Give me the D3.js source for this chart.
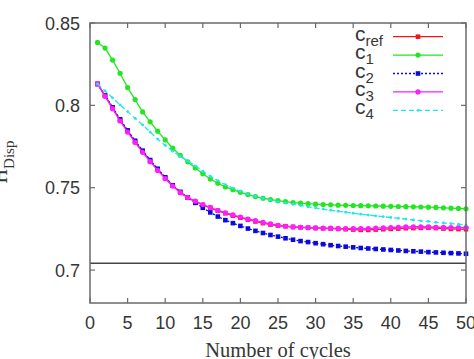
<!DOCTYPE html>
<html>
<head>
<meta charset="utf-8">
<script src="https://cdn.jsdelivr.net/npm/d3@7"></script>
<style>
  body { margin: 0; background: #fff; }
  svg { display: block; }
</style>
</head>
<body>
<div class="chart"></div>
<script>
var cycles = [1, 2, 3, 4, 5, 6, 7, 8, 9, 10, 11, 12, 13, 14, 15, 16, 17, 18, 19, 20,
	21, 22, 23, 24, 25, 26, 27, 28, 29, 30, 31, 32, 33, 34, 35, 36, 37, 38, 39, 40,
	41, 42, 43, 44, 45, 46, 47, 48, 49, 50];

var cRef = [0.8130, 0.8060, 0.7985, 0.7910, 0.7845, 0.7780, 0.7720, 0.7662, 0.7610, 0.7560,
	0.7512, 0.7472, 0.7440, 0.7415, 0.7395, 0.7378, 0.7360, 0.7345, 0.7330, 0.7318,
	0.7306, 0.7295, 0.7285, 0.7276, 0.7270, 0.7266, 0.7262, 0.7259, 0.7257, 0.7255,
	0.7253, 0.7252, 0.7250, 0.7248, 0.7246, 0.7244, 0.7244, 0.7246, 0.7248, 0.7250,
	0.7252, 0.7254, 0.7255, 0.7256, 0.7257, 0.7255, 0.7252, 0.7250, 0.7249, 0.7248];

var c1 = [0.8382, 0.8348, 0.8275, 0.8195, 0.8108, 0.8035, 0.7960, 0.7900, 0.7843, 0.7790,
	0.7740, 0.7697, 0.7657, 0.7620, 0.7585, 0.7553, 0.7527, 0.7505, 0.7488, 0.7472,
	0.7458, 0.7446, 0.7436, 0.7428, 0.7421, 0.7415, 0.7410, 0.7406, 0.7403, 0.7400,
	0.7398, 0.7396, 0.7394, 0.7393, 0.7392, 0.7391, 0.7390, 0.7389, 0.7388, 0.7387,
	0.7386, 0.7385, 0.7384, 0.7383, 0.7382, 0.7380, 0.7378, 0.7376, 0.7374, 0.7372];

var c2 = [0.8130, 0.8060, 0.7988, 0.7915, 0.7848, 0.7785, 0.7725, 0.7668, 0.7615, 0.7563,
	0.7515, 0.7475, 0.7440, 0.7408, 0.7378, 0.7350, 0.7325, 0.7303, 0.7285, 0.7268,
	0.7252, 0.7238, 0.7225, 0.7213, 0.7203, 0.7193, 0.7184, 0.7176, 0.7170, 0.7163,
	0.7157, 0.7151, 0.7146, 0.7142, 0.7138, 0.7134, 0.7131, 0.7128, 0.7125, 0.7122,
	0.7119, 0.7116, 0.7114, 0.7112, 0.7109, 0.7107, 0.7105, 0.7103, 0.7101, 0.7099];

var c3 = [0.8130, 0.8055, 0.7980, 0.7905, 0.7838, 0.7775, 0.7715, 0.7658, 0.7605, 0.7555,
	0.7510, 0.7470, 0.7440, 0.7418, 0.7398, 0.7380, 0.7363, 0.7348, 0.7335, 0.7322,
	0.7310, 0.7300, 0.7290, 0.7280, 0.7272, 0.7266, 0.7262, 0.7260, 0.7258, 0.7256,
	0.7255, 0.7254, 0.7252, 0.7252, 0.7251, 0.7251, 0.7252, 0.7254, 0.7256, 0.7258,
	0.7260, 0.7262, 0.7263, 0.7263, 0.7262, 0.7260, 0.7259, 0.7258, 0.7258, 0.7258];

var c4 = [0.8130, 0.8088, 0.8045, 0.8003, 0.7962, 0.7921, 0.7881, 0.7838, 0.7795, 0.7757,
	0.7722, 0.7690, 0.7662, 0.7633, 0.7600, 0.7570, 0.7543, 0.7518, 0.7497, 0.7478,
	0.7461, 0.7447, 0.7435, 0.7425, 0.7416, 0.7408, 0.7400, 0.7392, 0.7384, 0.7377,
	0.7370, 0.7363, 0.7357, 0.7351, 0.7345, 0.7339, 0.7334, 0.7329, 0.7324, 0.7319,
	0.7314, 0.7309, 0.7304, 0.7299, 0.7295, 0.7290, 0.7286, 0.7282, 0.7278, 0.7274];

var refLevel = 0.7041;

var xTicks = [0, 5, 10, 15, 20, 25, 30, 35, 40, 45, 50];
var yTicks = [0.7, 0.75, 0.8, 0.85];

var seriesNames = ["ref", "1", "2", "3", "4"];
var seriesValues = [cRef, c1, c2, c3, c4];
var seriesColors = ["#f01818", "#22e622", "#0a0ae0", "#ff1cff", "#1ee8e8"];
var seriesDash = [null, null, "2,2", null, "5,3"];
var seriesMarker = ["square", "circle", "square", "circle", "dot"];

(function() {
	var width = 474;
	var height = 359;
	var pLeft = 90, pRight = 466, pTop = 23, pBottom = 303;

	var svg = d3.select(".chart")
		.append("svg")
		.attr("width", width)
		.attr("height", height);

	var x = d3.scaleLinear().domain([0, 50]).range([pLeft, pRight]);
	var y = d3.scaleLinear().domain([0.68, 0.85]).range([pBottom, pTop]);

	var frameColor = "#6a6a6a";
	var textColor = "#363636";
	var sans = "'Liberation Sans', Arial, sans-serif";
	var serif = "'Liberation Serif', 'Times New Roman', serif";

	// ticks, mirrored on all four sides, pointing inward
	var tickLen = 5;
	var ticks = svg.append("g").attr("stroke", frameColor).attr("stroke-width", 1.2);
	xTicks.forEach(function(t) {
		ticks.append("line").attr("x1", x(t)).attr("x2", x(t)).attr("y1", pBottom).attr("y2", pBottom - tickLen);
		ticks.append("line").attr("x1", x(t)).attr("x2", x(t)).attr("y1", pTop).attr("y2", pTop + tickLen);
	});
	yTicks.forEach(function(t) {
		ticks.append("line").attr("x1", pLeft).attr("x2", pLeft + tickLen).attr("y1", y(t)).attr("y2", y(t));
		ticks.append("line").attr("x1", pRight).attr("x2", pRight - tickLen).attr("y1", y(t)).attr("y2", y(t));
	});

	// tick labels
	svg.append("g").selectAll("text")
		.data(xTicks)
		.enter()
		.append("text")
		.attr("x", function(d) { return x(d); })
		.attr("y", 329)
		.attr("text-anchor", "middle")
		.attr("font-family", sans)
		.attr("font-size", 18)
		.attr("fill", textColor)
		.text(function(d) { return d; });

	svg.append("g").selectAll("text")
		.data(yTicks)
		.enter()
		.append("text")
		.attr("x", 80)
		.attr("y", function(d) { return y(d) + 6.5; })
		.attr("text-anchor", "end")
		.attr("font-family", sans)
		.attr("font-size", 18)
		.attr("fill", textColor)
		.text(function(d) { return d3.format("")(d); });

	// horizontal reference level
	svg.append("line")
		.attr("x1", pLeft).attr("x2", pRight)
		.attr("y1", y(refLevel)).attr("y2", y(refLevel))
		.attr("stroke", "#444")
		.attr("stroke-width", 1.4);

	// series
	var line = d3.line()
		.x(function(d) { return x(d[0]); })
		.y(function(d) { return y(d[1]); });

	function drawMarker(g, kind, cx, cy, color) {
		if (kind === "square") {
			g.append("rect").attr("x", cx - 2.3).attr("y", cy - 2.3)
				.attr("width", 4.6).attr("height", 4.6).attr("fill", color);
		} else if (kind === "circle") {
			g.append("circle").attr("cx", cx).attr("cy", cy).attr("r", 2.6).attr("fill", color);
		} else {
			g.append("circle").attr("cx", cx).attr("cy", cy).attr("r", 1.4).attr("fill", color);
		}
	}

	seriesValues.forEach(function(vals, k) {
		var pts = cycles.map(function(c, i) { return [c, vals[i]]; });
		var g = svg.append("g").attr("class", "series");
		g.append("path")
			.datum(pts)
			.attr("d", line)
			.attr("fill", "none")
			.attr("stroke", seriesColors[k])
			.attr("stroke-width", 1.3)
			.attr("stroke-dasharray", seriesDash[k]);
		pts.forEach(function(p) {
			drawMarker(g, seriesMarker[k], x(p[0]), y(p[1]), seriesColors[k]);
		});
	});

	// frame
	svg.append("rect")
		.attr("x", pLeft).attr("y", pTop)
		.attr("width", pRight - pLeft).attr("height", pBottom - pTop)
		.attr("fill", "none")
		.attr("stroke", frameColor)
		.attr("stroke-width", 1.5);

	// legend
	var legend = svg.append("g");
	seriesNames.forEach(function(name, k) {
		var ly = 36.7 + k * 18.4;
		var t = legend.append("text")
			.attr("x", 355)
			.attr("y", ly + 4)
			.attr("font-family", sans)
			.attr("font-size", 21)
			.attr("fill", textColor);
		t.append("tspan").text("c");
		t.append("tspan").attr("dy", 5).attr("font-size", 15).text(name);
		legend.append("line")
			.attr("x1", 393).attr("x2", 443)
			.attr("y1", ly).attr("y2", ly)
			.attr("stroke", seriesColors[k])
			.attr("stroke-width", 1.3)
			.attr("stroke-dasharray", seriesDash[k]);
		drawMarker(legend, seriesMarker[k], 418, ly, seriesColors[k]);
	});

	// axis titles
	svg.append("text")
		.attr("x", 278)
		.attr("y", 357)
		.attr("text-anchor", "middle")
		.attr("font-family", serif)
		.attr("font-size", 20.5)
		.attr("fill", textColor)
		.text("Number of cycles");

	var yl = svg.append("text")
		.attr("transform", "translate(7,162) rotate(-90)")
		.attr("text-anchor", "middle")
		.attr("font-family", serif)
		.attr("font-size", 20)
		.attr("fill", textColor);
	yl.append("tspan").text("H");
	yl.append("tspan").attr("dy", 7).attr("font-size", 15).text("Disp");
})();
</script>
</body>
</html>
